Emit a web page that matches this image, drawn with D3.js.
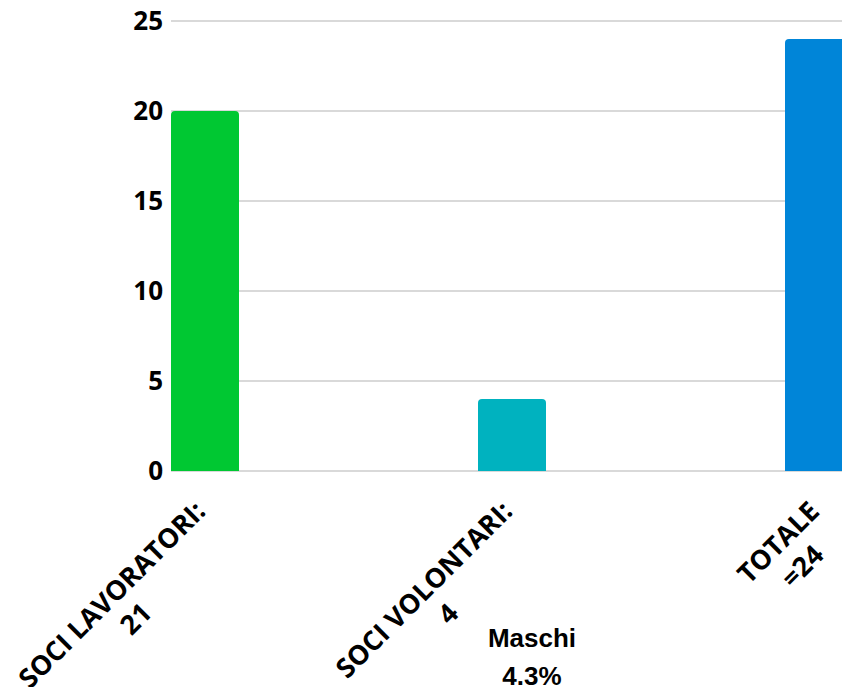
<!DOCTYPE html>
<html>
<head>
<meta charset="utf-8">
<script src="https://cdn.jsdelivr.net/npm/d3@7"></script>
<style>
html,body{margin:0;padding:0;background:#fff;overflow:hidden;}
svg{display:block;}
</style>
</head>
<body>
<svg id="chart" width="842" height="687"></svg>
<script>
const categories = ["SOCI LAVORATORI:", "SOCI VOLONTARI:", "TOTALE"];
const subLabels = ["21", "4", "=24"];
const values = [20, 4, 24];
const colors = ["#00c832", "#00b2bf", "#0085d8"];
const yTicks = [0, 5, 10, 15, 20, 25];
const noteLines = ["Maschi", "4.3%"];

(function () {
const svg = d3.select("#chart");
const W = 842, H = 687;
const plotLeft = 171, plotTop = 21, plotBottom = 471;

const x = d3.scaleBand().domain(categories).range([plotLeft, 853])
  .paddingInner(1 - 68/307).paddingOuter(0);
const y = d3.scaleLinear().domain([0, 25]).range([plotBottom, plotTop]);

// grid
svg.append("g").selectAll("line").data(yTicks).join("line")
  .attr("x1", plotLeft).attr("x2", W)
  .attr("y1", d => y(d)).attr("y2", d => y(d))
  .attr("stroke", "#cccccc").attr("stroke-width", 1.5);

// y tick labels
svg.append("g").selectAll("text").data(yTicks).join("text")
  .attr("x", 163).attr("y", d => y(d))
  .attr("dy", "0.36em")
  .attr("text-anchor", "end")
  .attr("font-family", "'Open Sans', sans-serif")
  .attr("font-weight", "bold")
  .attr("font-size", 26)
  .attr("fill", "#000")
  .text(d => d);

// bars with rounded top corners
const r = 4;
svg.append("g").selectAll("path").data(categories).join("path")
  .attr("fill", (d, i) => colors[i])
  .attr("d", (d, i) => {
    const x0 = x(d), w = x.bandwidth(), y0 = y(values[i]), yb = y(0);
    return `M${x0},${yb}V${y0 + r}Q${x0},${y0} ${x0 + r},${y0}H${x0 + w - r}Q${x0 + w},${y0} ${x0 + w},${y0 + r}V${yb}Z`;
  });

// category labels rotated
const fs = 27;
const lab = svg.append("g").selectAll("g").data(categories).join("g")
  .attr("transform", d => `translate(${x(d) + x.bandwidth()/2 + 2},${plotBottom + 42}) rotate(-45)`);
lab.each(function(d, i) {
  const g = d3.select(this);
  const t1 = g.append("text")
    .attr("font-family", "'Open Sans', sans-serif")
    .attr("font-weight", "bold").attr("font-size", fs).attr("fill", "#000")
    .attr("text-anchor", "middle")
    .text(d);
  const w = t1.node().getComputedTextLength();
  t1.attr("x", -w/2).attr("y", 0);
  g.append("text")
    .attr("font-family", "'Open Sans', sans-serif")
    .attr("font-weight", "bold").attr("font-size", fs).attr("fill", "#000")
    .attr("text-anchor", "middle")
    .attr("x", -w/2).attr("y", 34)
    .text(subLabels[i]);
});

// note text
svg.append("g").selectAll("text").data(noteLines).join("text")
  .attr("x", 532).attr("y", (d, i) => 647 + i * 38)
  .attr("text-anchor", "middle")
  .attr("font-family", "'Liberation Sans', Arial, sans-serif")
  .attr("font-weight", "bold").attr("font-size", 26)
  .attr("fill", "#000")
  .text(d => d);
})();
</script>
</body>
</html>
